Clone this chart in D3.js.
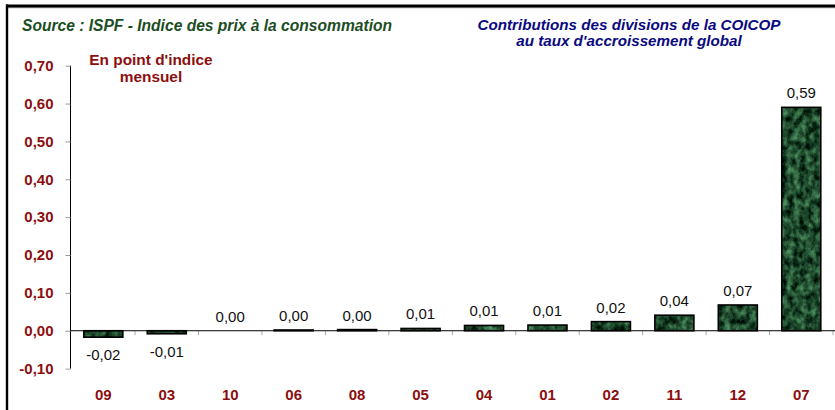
<!DOCTYPE html>
<html>
<head>
<meta charset="utf-8">
<script src="https://cdn.jsdelivr.net/npm/d3@7"></script>
<style>
  html, body { margin: 0; padding: 0; background: #fff; }
  svg { display: block; font-family: "Liberation Sans", Arial, sans-serif; }
</style>
</head>
<body>
<svg id="chart" width="835" height="410"></svg>
<script>
// COICOP divisions, ordered by contribution
const divisions = ["09", "03", "10", "06", "08", "05", "04", "01", "02", "11", "12", "07"];
// Contribution to the overall monthly index change (index points)
const contributions = [-0.017, -0.008, 0.000, 0.002, 0.003, 0.006, 0.014, 0.015, 0.024, 0.041, 0.068, 0.590];
// Y axis ticks
const yTicks = [-0.10, 0.00, 0.10, 0.20, 0.30, 0.40, 0.50, 0.60, 0.70];

const titleLeft = "Source : ISPF - Indice des prix à la consommation";
const titleRight = ["Contributions des divisions de la COICOP", "au taux d'accroissement global"];
const unitNote = ["En point d'indice", "mensuel"];

const svg = d3.select("#chart");
const fmt = v => d3.format(".2f")(v).replace(".", ",").replace("\u2212", "-");

const x = d3.scaleBand()
  .domain(divisions)
  .range([71.6, 833])
  .paddingInner(0.385)
  .paddingOuter(0.1925);

const y = d3.scaleLinear()
  .domain([-0.10, 0.70])
  .range([368.6, 65.7]);

// Marbled green fill for the bars
const defs = svg.append("defs");
const filt = defs.append("filter")
  .attr("id", "marble")
  .attr("filterUnits", "userSpaceOnUse")
  .attr("color-interpolation-filters", "sRGB")
  .attr("x", 0).attr("y", 0).attr("width", 835).attr("height", 410);
filt.append("feTurbulence")
  .attr("type", "fractalNoise")
  .attr("baseFrequency", "0.16 0.12")
  .attr("numOctaves", 4)
  .attr("seed", 11)
  .attr("result", "noise");
filt.append("feColorMatrix")
  .attr("in", "noise")
  .attr("type", "matrix")
  .attr("values",
    "0.55 0 0 0 -0.15 " +
    "0.85 0 0 0 -0.13 " +
    "0.60 0 0 0 -0.12 " +
    "0 0 0 0 1");
const pat = defs.append("pattern")
  .attr("id", "marbleFill")
  .attr("patternUnits", "userSpaceOnUse")
  .attr("width", 835).attr("height", 410);
pat.append("rect")
  .attr("width", 835).attr("height", 410)
  .attr("fill", "#1f5530")
  .attr("filter", "url(#marble)");

// Frame (top and left edges)
svg.append("rect").attr("x", 6).attr("y", 7).attr("width", 829).attr("height", 1.2).attr("fill", "#888");
svg.append("rect").attr("x", 6).attr("y", 4.5).attr("width", 829).attr("height", 2.8).attr("fill", "#000");
svg.append("rect").attr("x", 5.8).attr("y", 4.5).attr("width", 2.4).attr("height", 406).attr("fill", "#000");

// Titles
svg.append("text")
  .attr("x", 22).attr("y", 30.5)
  .attr("font-size", 15.6).attr("font-weight", "bold").attr("font-style", "italic")
  .attr("fill", "#1b4d1f")
  .text(titleLeft);

svg.append("text")
  .attr("x", 629).attr("y", 30)
  .attr("text-anchor", "middle")
  .attr("font-size", 15.2).attr("font-weight", "bold").attr("font-style", "italic")
  .attr("fill", "#0a0a80")
  .selectAll("tspan").data(titleRight).join("tspan")
  .attr("x", 629).attr("dy", (d, i) => i === 0 ? 0 : 15.5)
  .text(d => d);

svg.append("text")
  .attr("x", 151).attr("y", 64.5)
  .attr("text-anchor", "middle")
  .attr("font-size", 15.4).attr("font-weight", "bold")
  .attr("fill", "#8b0f0f")
  .selectAll("tspan").data(unitNote).join("tspan")
  .attr("x", 151).attr("dy", (d, i) => i === 0 ? 0 : 17.5)
  .text(d => d);

// Y axis
const yAxis = svg.append("g")
  .attr("transform", "translate(70.5,0)")
  .call(d3.axisLeft(y).tickValues(yTicks).tickSize(5).tickPadding(12).tickFormat(fmt));
yAxis.select(".domain").attr("stroke", "#000").attr("d", `M0,${y(0.70)}V${y(-0.10)}`);
yAxis.selectAll(".tick line").attr("stroke", "#999");
yAxis.selectAll(".tick text")
  .attr("font-family", "Liberation Sans, Arial, sans-serif")
  .attr("font-size", 15).attr("font-weight", "bold")
  .attr("fill", "#8b0f0f");

// Category separators on the zero line
const bounds = divisions.map(d => x(d) - x.step() * x.paddingInner() / 2).concat([833]);
svg.append("g").selectAll("line").data(bounds.slice(1)).join("line")
  .attr("x1", d => d).attr("x2", d => d)
  .attr("y1", y(0)).attr("y2", y(0) + 4.5)
  .attr("stroke", "#aaa").attr("stroke-width", 1);

// Bars
const data = divisions.map((d, i) => ({ div: d, v: contributions[i] }));
svg.append("g").selectAll("rect").data(data.filter(d => d.v !== 0)).join("rect")
  .attr("x", d => x(d.div))
  .attr("y", d => Math.min(y(d.v), y(0)))
  .attr("width", x.bandwidth())
  .attr("height", d => Math.abs(y(d.v) - y(0)))
  .attr("fill", "url(#marbleFill)")
  .attr("stroke", "#000")
  .attr("stroke-width", 1.6);

// Zero line
svg.append("line")
  .attr("x1", 70.5).attr("x2", 835)
  .attr("y1", y(0)).attr("y2", y(0))
  .attr("stroke", "#000").attr("stroke-width", 1);

// Value labels
svg.append("g").selectAll("text").data(data).join("text")
  .attr("x", d => x(d.div) + x.bandwidth() / 2)
  .attr("y", d => d.v < 0 ? y(d.v) + 23 : y(d.v) - 9)
  .attr("text-anchor", "middle")
  .attr("font-size", 15)
  .attr("fill", "#111")
  .text(d => fmt(d.v));

// Category labels
svg.append("g").selectAll("text").data(divisions).join("text")
  .attr("x", d => x(d) + x.bandwidth() / 2)
  .attr("y", 399.5)
  .attr("text-anchor", "middle")
  .attr("font-size", 15).attr("font-weight", "bold")
  .attr("fill", "#8b0f0f")
  .text(d => d);
</script>
</body>
</html>
